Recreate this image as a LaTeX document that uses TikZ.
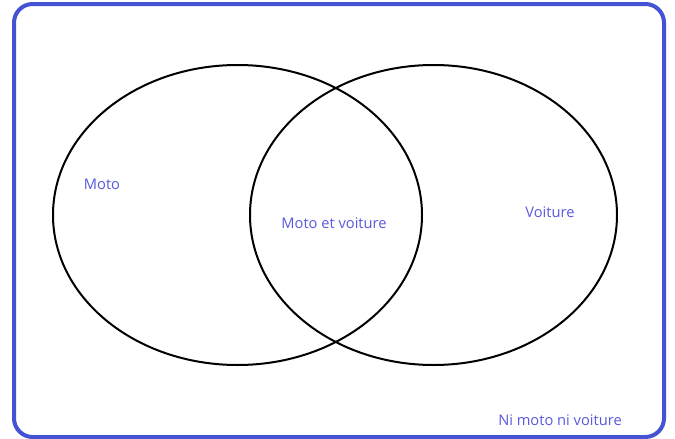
\documentclass[tikz,border=0pt]{standalone}
\usepackage{fontspec}
\setmainfont{Open Sans}
\definecolor{frameblue}{RGB}{68,82,212}
\definecolor{labelblue}{RGB}{88,88,222}
\begin{document}
\begin{tikzpicture}[x=0.75pt,y=0.75pt,yscale=-1,xscale=1,
  lbl/.style={inner sep=0.75pt,text=labelblue,font=\fontsize{11}{13}\selectfont}]
\useasboundingbox (0,0) rectangle (675,439);

%Shape: Rounded Rect [id:frame]
\draw [color=frameblue, line width=3pt, rounded corners=14] (14,4) rectangle (664,437) ;
%Shape: Ellipse [id:moto]
\draw [line width=1.5pt] (237.5,215) ellipse [x radius=184.5, y radius=150] ;
%Shape: Ellipse [id:voiture]
\draw [line width=1.5pt] (433.5,215) ellipse [x radius=183.5, y radius=150] ;

% Text Node
\node [lbl] (moto) at (102,184) {Moto};
% Text Node
\node [lbl] (both) at (334,223) {Moto et voiture};
% Text Node
\node [lbl] (voiture) at (550,212) {Voiture};
% Text Node
\node [lbl] (neither) at (560,420) {Ni moto ni voiture};

\end{tikzpicture}
\end{document}
